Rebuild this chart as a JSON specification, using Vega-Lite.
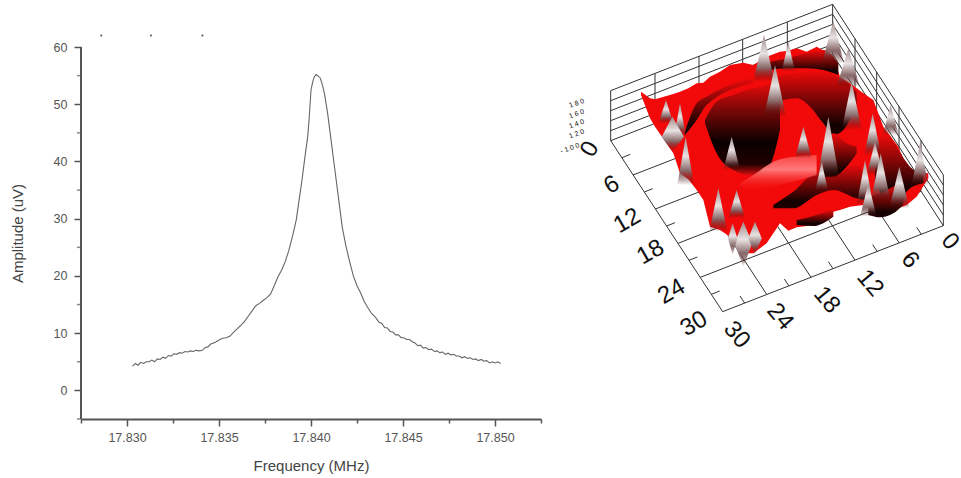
{"$schema":"https://vega.github.io/schema/vega-lite/v6.json","background":"white","padding":{"left":10,"top":0,"right":0,"bottom":0},"spacing":3,"config":{"view":{"stroke":null},"font":"Liberation Sans"},
"datasets":{
"curve":[{"f":17.8303,"a":4.2},{"f":17.83045,"a":4.7},{"f":17.8306,"a":4.4},{"f":17.83075,"a":4.9},{"f":17.8309,"a":4.7},{"f":17.83105,"a":5.0},{"f":17.8312,"a":5.0},{"f":17.83135,"a":5.3},{"f":17.8315,"a":5.0},{"f":17.83165,"a":5.5},{"f":17.8318,"a":5.4},{"f":17.83195,"a":5.8},{"f":17.8321,"a":5.6},{"f":17.83225,"a":6.1},{"f":17.8324,"a":6.0},{"f":17.83255,"a":6.4},{"f":17.8327,"a":6.3},{"f":17.83285,"a":6.6},{"f":17.833,"a":6.5},{"f":17.83315,"a":6.8},{"f":17.8333,"a":6.7},{"f":17.83345,"a":6.9},{"f":17.8336,"a":6.8},{"f":17.83375,"a":7.0},{"f":17.8339,"a":6.9},{"f":17.8341,"a":7.0},{"f":17.83425,"a":7.5},{"f":17.8344,"a":7.6},{"f":17.83455,"a":8.1},{"f":17.8347,"a":8.3},{"f":17.83485,"a":8.5},{"f":17.835,"a":8.8},{"f":17.8352,"a":9.1},{"f":17.8354,"a":9.2},{"f":17.8356,"a":9.5},{"f":17.8358,"a":10.2},{"f":17.836,"a":10.8},{"f":17.8362,"a":11.4},{"f":17.8364,"a":12.1},{"f":17.8366,"a":13},{"f":17.8368,"a":13.9},{"f":17.837,"a":14.8},{"f":17.8372,"a":15.2},{"f":17.8374,"a":15.7},{"f":17.8376,"a":16.2},{"f":17.8378,"a":16.8},{"f":17.838,"a":18.3},{"f":17.8382,"a":19.8},{"f":17.8384,"a":21},{"f":17.8386,"a":22.5},{"f":17.8388,"a":24.5},{"f":17.839,"a":27},{"f":17.8392,"a":29.8},{"f":17.83935,"a":33.2},{"f":17.8395,"a":36.5},{"f":17.8397,"a":41.5},{"f":17.83982,"a":44.3},{"f":17.8399,"a":47.5},{"f":17.84,"a":52.5},{"f":17.8401,"a":54},{"f":17.84018,"a":54.8},{"f":17.84028,"a":55.2},{"f":17.84036,"a":55},{"f":17.8405,"a":54.6},{"f":17.8406,"a":53.6},{"f":17.84073,"a":51.9},{"f":17.8409,"a":48.5},{"f":17.841,"a":46},{"f":17.8412,"a":41},{"f":17.84151,"a":33.2},{"f":17.8417,"a":28.5},{"f":17.8419,"a":25.2},{"f":17.8421,"a":22.5},{"f":17.8423,"a":20},{"f":17.8425,"a":18.3},{"f":17.8427,"a":17},{"f":17.8429,"a":15.5},{"f":17.8431,"a":14.4},{"f":17.8433,"a":13.4},{"f":17.8435,"a":12.8},{"f":17.8437,"a":11.9},{"f":17.84385,"a":11.7},{"f":17.844,"a":11.0},{"f":17.84415,"a":10.9},{"f":17.8443,"a":10.3},{"f":17.84445,"a":10.2},{"f":17.8446,"a":9.7},{"f":17.84475,"a":9.7},{"f":17.8449,"a":9.2},{"f":17.84505,"a":9.2},{"f":17.8452,"a":8.9},{"f":17.84535,"a":8.9},{"f":17.8455,"a":8.5},{"f":17.84565,"a":8.3},{"f":17.8458,"a":7.8},{"f":17.84595,"a":7.9},{"f":17.8461,"a":7.4},{"f":17.84625,"a":7.5},{"f":17.8464,"a":7.1},{"f":17.84655,"a":7.2},{"f":17.8467,"a":6.8},{"f":17.84685,"a":6.9},{"f":17.847,"a":6.6},{"f":17.84715,"a":6.7},{"f":17.8473,"a":6.3},{"f":17.84745,"a":6.5},{"f":17.8476,"a":6.2},{"f":17.84775,"a":6.3},{"f":17.8479,"a":6.0},{"f":17.84805,"a":6.0},{"f":17.8482,"a":5.7},{"f":17.84835,"a":5.9},{"f":17.8485,"a":5.6},{"f":17.84865,"a":5.7},{"f":17.8488,"a":5.4},{"f":17.84895,"a":5.5},{"f":17.8491,"a":5.2},{"f":17.84925,"a":5.4},{"f":17.8494,"a":5.1},{"f":17.84955,"a":5.2},{"f":17.8497,"a":4.8},{"f":17.84985,"a":5.0},{"f":17.85,"a":4.8},{"f":17.85015,"a":5.0},{"f":17.8503,"a":4.7}],
"frame":[
{"x":212,"y":362,"x2":548,"y2":875},{"x":548,"y":875,"x2":1210,"y2":617},{"x":212,"y":362,"x2":212,"y2":212},{"x":1210,"y":617,"x2":1210,"y2":465},{"x":878,"y":-47,"x2":878,"y2":103},
{"x":212,"y":212,"x2":878,"y2":-47},{"x":212,"y":242,"x2":878,"y2":-17},{"x":212,"y":272,"x2":878,"y2":13},{"x":212,"y":302,"x2":878,"y2":43},{"x":212,"y":332,"x2":878,"y2":73},{"x":212,"y":362,"x2":878,"y2":103},
{"x":878,"y":-47,"x2":1210,"y2":465},{"x":878,"y":-17,"x2":1210,"y2":495},{"x":878,"y":13,"x2":1210,"y2":525},{"x":878,"y":43,"x2":1210,"y2":555},{"x":878,"y":73,"x2":1210,"y2":585},{"x":878,"y":103,"x2":1210,"y2":617},
{"x":345,"y":161,"x2":345,"y2":311},{"x":477,"y":109,"x2":477,"y2":259},{"x":608,"y":58,"x2":608,"y2":208},{"x":742,"y":6,"x2":742,"y2":156},
{"x":945,"y":56,"x2":945,"y2":206},{"x":1010,"y":156,"x2":1010,"y2":306},{"x":1077,"y":259,"x2":1077,"y2":409},{"x":1143,"y":361,"x2":1143,"y2":511},
{"x":279,"y":465,"x2":941,"y2":207},{"x":346,"y":567,"x2":1008,"y2":309},{"x":414,"y":670,"x2":1076,"y2":412},{"x":481,"y":772,"x2":1143,"y2":514},
{"x":680,"y":823,"x2":345,"y2":311},{"x":813,"y":772,"x2":477,"y2":259},{"x":945,"y":720,"x2":608,"y2":208},{"x":1078,"y":669,"x2":742,"y2":156},
{"x":246,"y":413,"x2":271,"y2":403},{"x":313,"y":516,"x2":338,"y2":506},{"x":380,"y":618,"x2":405,"y2":608},{"x":447,"y":721,"x2":472,"y2":711},{"x":514,"y":823,"x2":539,"y2":813},
{"x":614,"y":849,"x2":600,"y2":828},{"x":747,"y":798,"x2":733,"y2":777},{"x":879,"y":746,"x2":865,"y2":725},{"x":1012,"y":695,"x2":998,"y2":674},{"x":1144,"y":643,"x2":1130,"y2":622}],
"labels":[{"x":150,"y":388,"t":"0","rot":-60},{"x":215,"y":495,"t":"6","rot":-30},{"x":262,"y":603,"t":"12","rot":-30},{"x":332,"y":697,"t":"18","rot":-30},{"x":395,"y":815,"t":"24","rot":-30},{"x":462,"y":912,"t":"30","rot":-30},{"x":1230,"y":665,"t":"0","rot":50},{"x":1110,"y":720,"t":"6","rot":50},{"x":990,"y":790,"t":"12","rot":50},{"x":860,"y":840,"t":"18","rot":50},{"x":720,"y":890,"t":"24","rot":50},{"x":590,"y":945,"t":"30","rot":50}],
"zlabels":[{"x":110,"y":250,"t":"1 8 0"},{"x":110,"y":282,"t":"1 6 0"},{"x":110,"y":312,"t":"1 4 0"},{"x":110,"y":342,"t":"1 2 0"},{"x":90,"y":385,"t":"- 1 0 0"}],
"surface":[{"x":303,"y":215,"y2":225},{"x":330,"y":235,"y2":295},{"x":345,"y":238,"y2":320},{"x":400,"y":222,"y2":400},{"x":420,"y":215,"y2":460},{"x":445,"y":205,"y2":478},{"x":470,"y":190,"y2":510},{"x":490,"y":188,"y2":540},{"x":510,"y":170,"y2":620},{"x":540,"y":155,"y2":630},{"x":570,"y":135,"y2":650},{"x":610,"y":128,"y2":700},{"x":640,"y":135,"y2":700},{"x":680,"y":110,"y2":670},{"x":720,"y":95,"y2":610},{"x":745,"y":92,"y2":632},{"x":770,"y":85,"y2":622},{"x":800,"y":95,"y2":618},{"x":830,"y":80,"y2":610},{"x":880,"y":108,"y2":575},{"x":900,"y":170,"y2":570},{"x":930,"y":190,"y2":560},{"x":970,"y":220,"y2":555},{"x":1000,"y":240,"y2":575},{"x":1030,"y":320,"y2":590},{"x":1075,"y":380,"y2":565},{"x":1100,"y":440,"y2":555},{"x":1130,"y":455,"y2":530},{"x":1165,"y":460,"y2":475}],
"down":[
{"id":"b","x":690,"y":190,"y2":300},{"id":"b","x":730,"y":165,"y2":240},{"id":"b","x":770,"y":160,"y2":235},{"id":"b","x":810,"y":155,"y2":260},{"id":"b","x":850,"y":150,"y2":310},{"id":"b","x":880,"y":165,"y2":345},{"id":"b","x":910,"y":180,"y2":330},{"id":"b","x":950,"y":215,"y2":250},
{"id":"d","x":700,"y":555,"y2":565},{"id":"d","x":760,"y":515,"y2":565},{"id":"d","x":830,"y":460,"y2":525},{"id":"d","x":880,"y":470,"y2":510},{"id":"d","x":950,"y":430,"y2":535},{"id":"d","x":975,"y":470,"y2":540},
{"id":"e","x":690,"y":125,"y2":150},{"id":"e","x":740,"y":115,"y2":145},{"id":"e","x":800,"y":100,"y2":145},{"id":"e","x":850,"y":90,"y2":150},{"id":"e","x":895,"y":130,"y2":165},
{"id":"f","x":435,"y":335,"y2":345},{"id":"f","x":470,"y":250,"y2":300},{"id":"f","x":500,"y":230,"y2":255},{"id":"f","x":640,"y":170,"y2":190},
{"id":"g","x":1005,"y":390,"y2":480},{"id":"g","x":1040,"y":340,"y2":540},{"id":"g","x":1075,"y":390,"y2":540},{"id":"g","x":1110,"y":440,"y2":505},{"id":"g","x":1150,"y":465,"y2":490},
{"id":"h","x":985,"y":530,"y2":585},{"id":"h","x":1020,"y":520,"y2":592},{"id":"h","x":1060,"y":500,"y2":580},{"id":"h","x":1090,"y":490,"y2":555},
{"id":"i","x":770,"y":600,"y2":615},{"id":"i","x":820,"y":588,"y2":618},{"id":"i","x":880,"y":568,"y2":590},
{"id":"j","x":850,"y":395,"y2":470},{"id":"j","x":880,"y":340,"y2":470},{"id":"j","x":920,"y":370,"y2":440},{"id":"j","x":950,"y":380,"y2":400}],
"pits":[{"id":"a","x":495,"y":300,"y2":310},{"id":"a","x":530,"y":245,"y2":400},{"id":"a","x":580,"y":225,"y2":450},{"id":"a","x":640,"y":205,"y2":467},{"id":"a","x":680,"y":195,"y2":455},{"id":"a","x":700,"y":180,"y2":410},{"id":"a","x":720,"y":200,"y2":330}],
"pale":[{"id":"p","x":600,"y":490,"y2":500},{"id":"p","x":640,"y":465,"y2":515},{"id":"p","x":700,"y":425,"y2":500},{"id":"p","x":760,"y":410,"y2":485},{"id":"p","x":830,"y":405,"y2":465}],
"spikes":[
{"id":"s1","x":640,"y":185,"y2":185},{"id":"s1","x":672,"y":45,"y2":185},{"id":"s1","x":704,"y":185,"y2":185},
{"id":"s2","x":725,"y":155,"y2":155},{"id":"s2","x":745,"y":65,"y2":155},{"id":"s2","x":765,"y":155,"y2":155},
{"id":"s3","x":846,"y":130,"y2":130},{"id":"s3","x":880,"y":2,"y2":130},{"id":"s3","x":912,"y":130,"y2":130},
{"id":"s4","x":890,"y":200,"y2":200},{"id":"s4","x":925,"y":85,"y2":200},{"id":"s4","x":960,"y":200,"y2":200},
{"id":"s5","x":672,"y":290,"y2":290},{"id":"s5","x":705,"y":135,"y2":290},{"id":"s5","x":738,"y":290,"y2":290},
{"id":"s6","x":905,"y":330,"y2":330},{"id":"s6","x":935,"y":185,"y2":330},{"id":"s6","x":965,"y":330,"y2":330},
{"id":"s7","x":356,"y":310,"y2":310},{"id":"s7","x":378,"y":240,"y2":310},{"id":"s7","x":400,"y":310,"y2":310},
{"id":"s8","x":402,"y":350,"y2":350},{"id":"s8","x":420,"y":250,"y2":350},{"id":"s8","x":438,"y":350,"y2":350},
{"id":"s9","x":365,"y":350,"y2":350},{"id":"s9","x":397,"y":290,"y2":395},{"id":"s9","x":432,"y":350,"y2":350},
{"id":"s10","x":412,"y":495,"y2":495},{"id":"s10","x":437,"y":350,"y2":495},{"id":"s10","x":462,"y":495,"y2":495},
{"id":"s11","x":550,"y":450,"y2":450},{"id":"s11","x":575,"y":350,"y2":450},{"id":"s11","x":600,"y":450,"y2":450},
{"id":"s12","x":765,"y":415,"y2":415},{"id":"s12","x":790,"y":320,"y2":415},{"id":"s12","x":815,"y":415,"y2":415},
{"id":"s13","x":832,"y":475,"y2":475},{"id":"s13","x":865,"y":290,"y2":475},{"id":"s13","x":898,"y":475,"y2":475},
{"id":"s14","x":1028,"y":345,"y2":345},{"id":"s14","x":1052,"y":255,"y2":345},{"id":"s14","x":1076,"y":345,"y2":345},
{"id":"s15","x":973,"y":405,"y2":405},{"id":"s15","x":998,"y":280,"y2":405},{"id":"s15","x":1023,"y":405,"y2":405},
{"id":"s16","x":980,"y":465,"y2":465},{"id":"s16","x":1005,"y":365,"y2":465},{"id":"s16","x":1030,"y":465,"y2":465},
{"id":"s17","x":992,"y":545,"y2":545},{"id":"s17","x":1022,"y":400,"y2":545},{"id":"s17","x":1052,"y":545,"y2":545},
{"id":"s18","x":950,"y":555,"y2":555},{"id":"s18","x":975,"y":420,"y2":555},{"id":"s18","x":1000,"y":555,"y2":555},
{"id":"s19","x":960,"y":590,"y2":590},{"id":"s19","x":985,"y":490,"y2":590},{"id":"s19","x":1010,"y":590,"y2":590},
{"id":"s20","x":1048,"y":565,"y2":565},{"id":"s20","x":1078,"y":440,"y2":565},{"id":"s20","x":1108,"y":565,"y2":565},
{"id":"s21","x":1115,"y":495,"y2":495},{"id":"s21","x":1140,"y":370,"y2":495},{"id":"s21","x":1165,"y":495,"y2":495},
{"id":"s22","x":825,"y":515,"y2":515},{"id":"s22","x":845,"y":425,"y2":515},{"id":"s22","x":865,"y":515,"y2":515},
{"id":"s23","x":508,"y":635,"y2":635},{"id":"s23","x":535,"y":505,"y2":635},{"id":"s23","x":562,"y":635,"y2":635},
{"id":"s24","x":565,"y":595,"y2":595},{"id":"s24","x":590,"y":510,"y2":595},{"id":"s24","x":615,"y":595,"y2":595},
{"id":"s25","x":583,"y":670,"y2":670},{"id":"s25","x":610,"y":605,"y2":740},{"id":"s25","x":637,"y":670,"y2":670},
{"id":"s26","x":625,"y":655,"y2":655},{"id":"s26","x":645,"y":605,"y2":705},{"id":"s26","x":665,"y":655,"y2":655},
{"id":"s27","x":564,"y":655,"y2":655},{"id":"s27","x":578,"y":610,"y2":705},{"id":"s27","x":592,"y":655,"y2":655}],
"marks":[{"f":17.8286,"a":62},{"f":17.8313,"a":62},{"f":17.8341,"a":62}],
"yline":[{"f":17.8275,"a":-5,"a2":60}],
"minor":[{"f":17.8275,"a":-5},{"f":17.8275,"a":5},{"f":17.8275,"a":15},{"f":17.8275,"a":25},{"f":17.8275,"a":35},{"f":17.8275,"a":45},{"f":17.8275,"a":55}]
},
"hconcat":[
{"width":460,"height":419,"layer":[
{"data":{"name":"curve"},"mark":{"type":"line","color":"#666","strokeWidth":1.1},"encoding":{"x":{"field":"f","type":"quantitative","scale":{"domain":[17.8275,17.8525],"nice":false,"zero":false},"axis":{"title":"Frequency (MHz)","values":[17.8275,17.83,17.8325,17.835,17.8375,17.84,17.8425,17.845,17.8475,17.85,17.8525],"format":".3f","grid":false,"domainColor":"#555","domainWidth":2,"tickColor":"#555","tickWidth":1.5,"tickSize":{"condition":{"test":"abs(datum.value*200-round(datum.value*200))<0.01","value":7},"value":4},"labelExpr":"abs(datum.value*200-round(datum.value*200))<0.01?datum.label:''","labelOverlap":false,"labelFontSize":12.5,"labelColor":"#555","labelPadding":5,"labelFont":"Liberation Sans","titleFont":"Liberation Sans","titleFontSize":15,"titleFontWeight":"normal","titleColor":"#444","titlePadding":15}},"y":{"field":"a","type":"quantitative","scale":{"domain":[-5,68.22],"nice":false,"zero":false},"axis":{"title":"Amplitude (uV)","titleY":233,"values":[0,10,20,30,40,50,60],"format":"d","domain":false,"grid":false,"tickColor":"#555","tickWidth":1.5,"tickSize":7,"labelOverlap":false,"labelFontSize":12.5,"labelColor":"#555","labelPadding":7,"labelFont":"Liberation Sans","titleFont":"Liberation Sans","titleFontSize":15,"titleFontWeight":"normal","titleColor":"#444","titlePadding":28}}}},
{"data":{"name":"yline"},"mark":{"type":"rule","color":"#555","strokeWidth":2},"encoding":{"x":{"field":"f","type":"quantitative"},"y":{"field":"a","type":"quantitative"},"y2":{"field":"a2"}}},
{"data":{"name":"minor"},"mark":{"type":"tick","orient":"horizontal","color":"#555","size":4,"thickness":1.5,"xOffset":-2},"encoding":{"x":{"field":"f","type":"quantitative"},"y":{"field":"a","type":"quantitative"}}},
{"data":{"name":"marks"},"mark":{"type":"point","filled":true,"color":"#222","size":5},"encoding":{"x":{"field":"f","type":"quantitative"},"y":{"field":"a","type":"quantitative"}}}
]},
{"width":415,"height":360,"layer":[
{"data":{"name":"frame"},"mark":{"type":"rule","color":"#333","strokeWidth":1},"encoding":{"x":{"field":"x","type":"quantitative","scale":{"domain":[15,1260],"nice":false,"zero":false},"axis":null},"y":{"field":"y","type":"quantitative","scale":{"domain":[1020,-60],"nice":false,"zero":false},"axis":null},"x2":{"field":"x2"},"y2":{"field":"y2"}}},
{"data":{"name":"labels"},"mark":{"type":"text","font":"Liberation Sans","fontSize":24,"color":"#111"},"encoding":{"x":{"field":"x","type":"quantitative"},"y":{"field":"y","type":"quantitative"},"text":{"field":"t"},"angle":{"field":"rot","type":"quantitative","scale":null}}},
{"data":{"name":"zlabels"},"mark":{"type":"text","font":"Liberation Sans","fontSize":7,"color":"#111","angle":340},"encoding":{"x":{"field":"x","type":"quantitative"},"y":{"field":"y","type":"quantitative"},"text":{"field":"t"}}},
{"data":{"name":"surface"},"mark":{"type":"area","color":"#f20a0a"},"encoding":{"x":{"field":"x","type":"quantitative"},"y":{"field":"y","type":"quantitative"},"y2":{"field":"y2"}}},
{"data":{"name":"down"},"mark":{"type":"area","interpolate":"monotone","color":{"gradient":"linear","x1":0,"y1":0,"x2":0,"y2":1,"stops":[{"offset":0,"color":"#f20a0a"},{"offset":0.45,"color":"#7a0606"},{"offset":0.85,"color":"#120000"},{"offset":1,"color":"#200000"}]}},"encoding":{"x":{"field":"x","type":"quantitative"},"y":{"field":"y","type":"quantitative"},"y2":{"field":"y2"},"detail":{"field":"id"}}},
{"data":{"name":"pits"},"mark":{"type":"area","interpolate":"monotone","color":{"gradient":"linear","x1":0,"y1":0,"x2":0,"y2":1,"stops":[{"offset":0,"color":"#f20a0a"},{"offset":0.3,"color":"#800808"},{"offset":0.65,"color":"#0a0000"},{"offset":0.88,"color":"#200000"},{"offset":1,"color":"#e01010"}]}},"encoding":{"x":{"field":"x","type":"quantitative"},"y":{"field":"y","type":"quantitative"},"y2":{"field":"y2"},"detail":{"field":"id"}}},
{"data":{"name":"pale"},"mark":{"type":"area","interpolate":"monotone","color":{"gradient":"linear","x1":0,"y1":0,"x2":0,"y2":1,"stops":[{"offset":0,"color":"rgba(255,120,120,0.5)"},{"offset":0.4,"color":"#ff7a7a"},{"offset":1,"color":"rgba(242,10,10,0)"}]}},"encoding":{"x":{"field":"x","type":"quantitative"},"y":{"field":"y","type":"quantitative"},"y2":{"field":"y2"},"detail":{"field":"id"}}},
{"data":{"name":"spikes"},"mark":{"type":"area","color":{"gradient":"linear","x1":0,"y1":0,"x2":0,"y2":1,"stops":[{"offset":0,"color":"#a08888"},{"offset":0.4,"color":"#e8e2e2"},{"offset":0.7,"color":"#8a6a6a"},{"offset":1,"color":"rgba(60,0,0,0)"}]}},"encoding":{"x":{"field":"x","type":"quantitative"},"y":{"field":"y","type":"quantitative"},"y2":{"field":"y2"},"detail":{"field":"id"}}}
]}
]}
